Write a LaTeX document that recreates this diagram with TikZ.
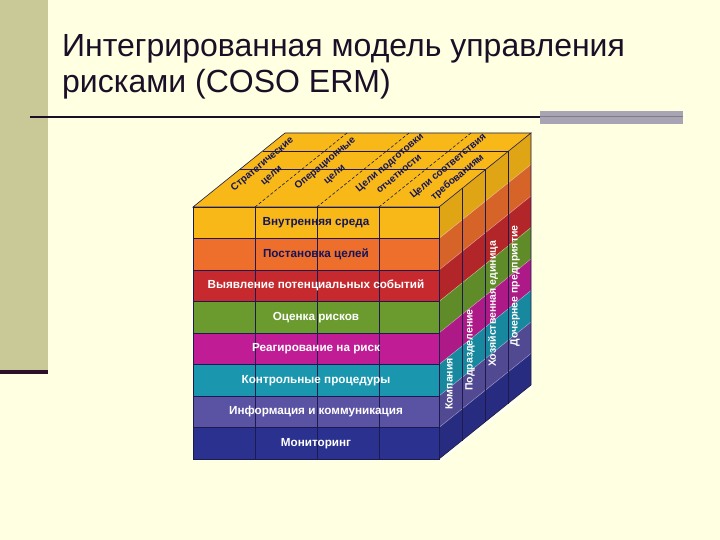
\documentclass[tikz,border=0pt]{standalone}
\usepackage{fontspec}
\setmainfont{Liberation Sans}
\definecolor{bgc}{HTML}{FFFFE1}
\definecolor{stripc}{HTML}{C9C997}
\definecolor{striplinec}{HTML}{2B0F2B}
\definecolor{titlec}{HTML}{1A0F26}
\definecolor{greybarc}{HTML}{A9A4B4}
\definecolor{topc}{HTML}{F8B817}
\definecolor{ca}{HTML}{F8B817}
\definecolor{cb}{HTML}{EE6E2C}
\definecolor{cc}{HTML}{C62A2E}
\definecolor{cd}{HTML}{6B9B2E}
\definecolor{ce}{HTML}{C01C95}
\definecolor{cf}{HTML}{1A97AE}
\definecolor{cg}{HTML}{5A52A2}
\definecolor{ch}{HTML}{2B318F}
\definecolor{navyc}{HTML}{15155A}
\definecolor{edgec}{HTML}{1C1A4E}
\tikzset{
  frontlabel/.style={font=\bfseries\fontsize{11.7}{13}\selectfont, inner sep=0pt},
  sidelabel/.style={font=\bfseries\fontsize{10.5}{12}\selectfont, text=white, rotate=90, inner sep=0pt},
  toplabel/.style={font=\bfseries\fontsize{10}{14.5}\selectfont, text=navyc, rotate=40, align=center, inner sep=0pt},
  edge/.style={draw=edgec, line width=0.6pt},
  titletext/.style={anchor=base west, font=\fontsize{32}{36}\selectfont, text=titlec, inner sep=0pt}
}
\begin{document}
\begin{tikzpicture}[x=1pt,y=-1pt]
\useasboundingbox (0,0) rectangle (720,540);
\fill[bgc] (0,0) rectangle (720,540);
\fill[stripc] (0,0) rectangle (48,370);
\fill[striplinec] (0,370) rectangle (48,374);
% title
\node[titletext] (t1) at (62,57) {Интегрированная модель управления};
\node[titletext] (t2) at (62,93) {рисками (COSO ERM)};
\fill[greybarc] (540,111) rectangle (683,124);
\draw[line width=2pt, titlec] (30,117) -- (540,117);
\draw[line width=1pt, greybarc!75!black] (540,117) -- (683,117);
% cube: top face
\fill[topc] (193,207) -- (285,133) -- (531,133) -- (439,207) -- cycle;
% bands
\foreach \c [count=\k from 0] in {ca,cb,cc,cd,ce,cf,cg,ch} {
  \pgfmathsetmacro{\ya}{207+31.5*\k}
  \pgfmathsetmacro{\yb}{207+31.5*(\k+1)}
  \fill[\c] (193,\ya) rectangle (439,\yb);
  \fill[\c!90!black] (439,\ya) -- (531,\ya-74) -- (531,\yb-74) -- (439,\yb) -- cycle;
}
% band boundary lines
\foreach \k in {1,...,7} {
  \pgfmathsetmacro{\ya}{207+31.5*\k}
  \draw[edgec, line width=0.5pt] (193,\ya) -- (439,\ya);
  \draw[white, opacity=0.35, line width=0.6pt] (439,\ya) -- (531,\ya-74);
}
% front vertical lines
\foreach \x in {255,317,379} {
  \draw[edge] (\x,207) -- (\x,459);
}
% right face vertical lines
\foreach \x/\o in {462/18.5,485/37,508/55.5} {
  \draw[edge] (\x,207-\o) -- (\x,459-\o);
}
% top face lines
\draw[edge] (262.6,151) -- (508.6,151);
\draw[edge] (240.2,169) -- (486.2,169);
\foreach \x in {255,317,379} {
  \draw[edge, dashed, dash pattern=on 3pt off 2pt] (\x,207) -- (\x+92,133);
}
% outlines
\draw[edge] (193,207) -- (285,133) -- (531,133) -- (439,207) -- cycle;
\draw[edge] (193,207) rectangle (439,459);
\draw[edge] (439,459) -- (531,385) -- (531,133);
\draw[white, line width=1.5pt, opacity=0.8] (441,461) -- (533,387);
% front labels
\node[frontlabel, text=navyc] (f1) at (316,222.75) {Внутренняя среда};
\node[frontlabel, text=navyc] (f2) at (316,254.25) {Постановка целей};
\node[frontlabel, text=white] (f3) at (316,285.75) {Выявление потенциальных событий};
\node[frontlabel, text=white] (f4) at (316,317.25) {Оценка рисков};
\node[frontlabel, text=white] (f5) at (316,348.75) {Реагирование на риск};
\node[frontlabel, text=white] (f6) at (316,380.25) {Контрольные процедуры};
\node[frontlabel, text=white] (f7) at (316,411.75) {Информация и коммуникация};
\node[frontlabel, text=white] (f8) at (316,443.25) {Мониторинг};
% side labels
\node[sidelabel] (s1) at (449,384) {Компания};
\node[sidelabel] (s2) at (470,350) {Подразделение};
\node[sidelabel] (s3) at (493,304) {Хозяйственная единица};
\node[sidelabel] (s4) at (515,286) {Дочернее предприятие};
% top labels
\node[toplabel] (p1) at (267,170) {Стратегические\\цели};
\node[toplabel] (p2) at (330,169) {Операционные\\цели};
\node[toplabel] (p3) at (394,168) {Цели подготовки\\отчетности};
\node[toplabel] (p4) at (453,172) {Цели соответствия\\требованиям};
\end{tikzpicture}
\end{document}
